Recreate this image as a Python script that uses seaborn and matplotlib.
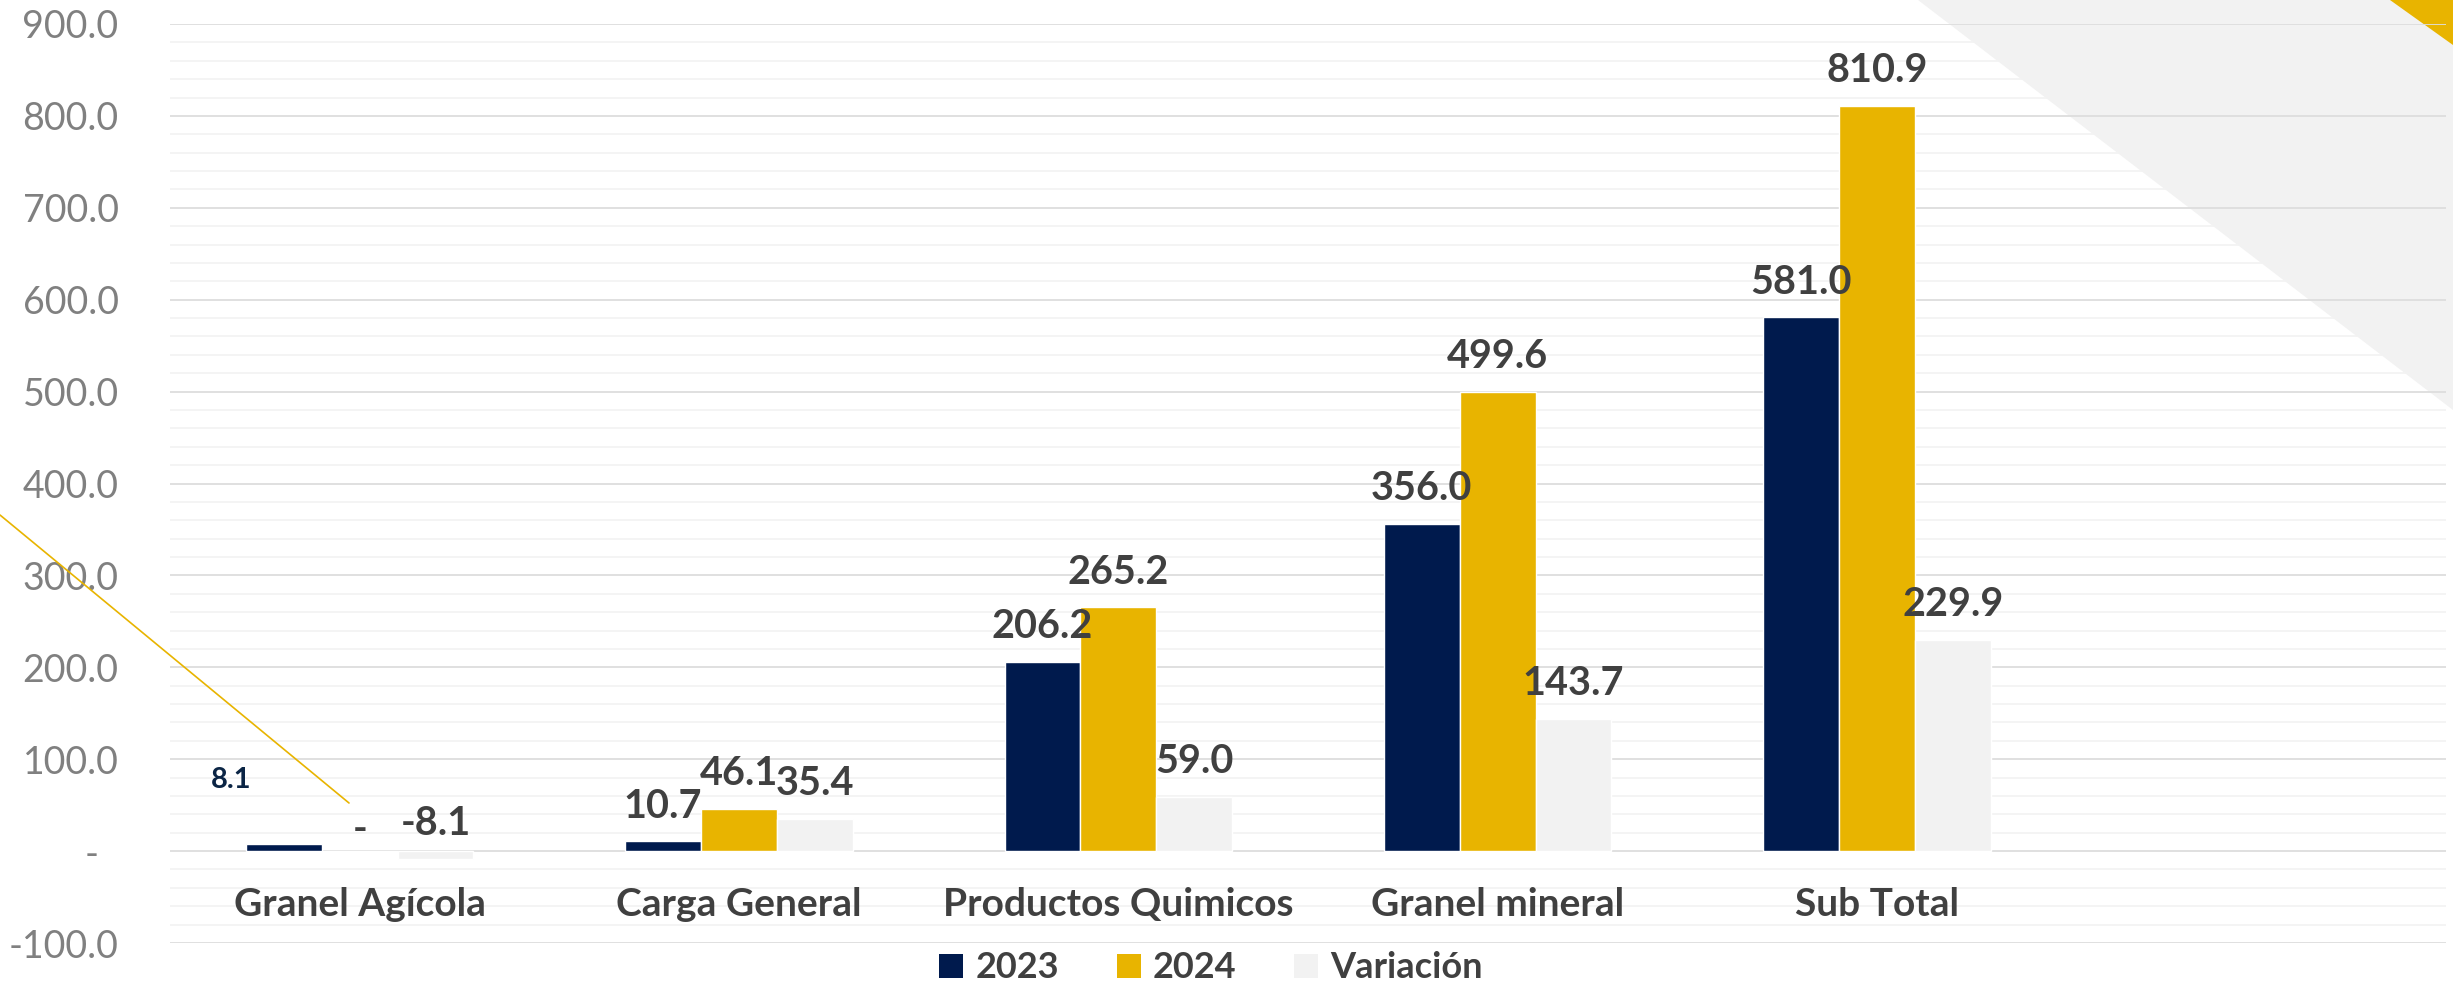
import numpy as np
import pandas as pd
import matplotlib
matplotlib.use("Agg")
import matplotlib.pyplot as plt
import seaborn as sns
from matplotlib.patches import Patch, Polygon
from matplotlib.lines import Line2D
from matplotlib.ticker import MultipleLocator, FuncFormatter

# =====================================
# Data
# =====================================
categories = ["Granel Agícola", "Carga General", "Productos Quimicos", "Granel mineral", "Sub Total"]
empty_slot = " "   # Excel chart keeps an empty sixth category
series = ["2023", "2024", "Variación"]

values_2023 = [8.1, 10.7, 206.2, 356.0, 581.0]
values_2024 = [0.0, 46.1, 265.2, 499.6, 810.9]
values_var = [-8.1, 35.4, 59.0, 143.7, 229.9]

colors = ["#001A4D", "#E8B400", "#F2F2F2"]

df = pd.DataFrame({
    "categoria": categories * 3,
    "serie": np.repeat(series, len(categories)),
    "valor": values_2023 + values_2024 + values_var,
})

# =====================================
# Figure
# =====================================
sns.set_theme(style="white")
plt.rcParams["font.family"] = ["Lato", "DejaVu Sans"]

W, H = 2453, 984
fig = plt.figure(figsize=(W / 100, H / 100), dpi=100)
ax = fig.add_axes([170 / W, 41 / H, (2446 - 170) / W, (943 - 24) / H])
ax.set_facecolor("none")

# background decorations (figure level)
fig.add_artist(Polygon([[1918 / W, 1], [1, 1], [1, 1 - 410 / H]], closed=True,
                       transform=fig.transFigure, facecolor="#F2F2F2",
                       edgecolor="none", zorder=-1))
fig.add_artist(Polygon([[2390 / W, 1], [1, 1], [1, 1 - 45 / H]], closed=True,
                       transform=fig.transFigure, facecolor="#E8B400",
                       edgecolor="none", zorder=-1))
fig.add_artist(Line2D([0, 349 / W], [1 - 515 / H, 1 - 803 / H],
                      transform=fig.transFigure, color="#E8B400",
                      linewidth=1.2, zorder=5))

sns.barplot(
    data=df, x="categoria", y="valor", hue="serie",
    order=categories + [empty_slot], hue_order=series,
    palette=colors, width=0.6, errorbar=None, saturation=1,
    legend=False, ax=ax,
)

# =====================================
# Axes styling
# =====================================
ax.set_ylim(-100, 900)
ax.yaxis.set_major_locator(MultipleLocator(100))
ax.yaxis.set_minor_locator(MultipleLocator(20))
ax.yaxis.set_major_formatter(FuncFormatter(lambda v, p: "-  " if abs(v) < 1e-9 else f"{v:.1f}"))
ax.grid(which="major", axis="y", color="#DDDDDD", linewidth=1.3)
ax.grid(which="minor", axis="y", color="#F3F3F3", linewidth=1.3)
ax.set_axisbelow(True)
ax.xaxis.set_zorder(0.7)   # category labels above the y gridlines

for side in ["top", "right", "left", "bottom"]:
    ax.spines[side].set_visible(False)
ax.spines["bottom"].set_position(("data", 0))

ax.tick_params(which="both", length=0)
ax.tick_params(axis="y", pad=37, labelsize=27, labelcolor="#808080")
ax.tick_params(axis="x", pad=26, labelsize=28, labelcolor="#404040")
for lbl in ax.get_xticklabels():
    lbl.set_fontweight("bold")
ax.set_xlabel("")
ax.set_ylabel("")

# =====================================
# Data labels
# =====================================
for cont, ser in zip(ax.containers, series):
    for i, bar in enumerate(cont):
        h = bar.get_height()
        if np.isnan(h):
            continue
        xc = bar.get_x() + bar.get_width() / 2
        if ser == "2023" and i == 0:
            # label moved by hand in the original
            ax.annotate(f"{h:.1f}", (xc, h), xytext=(-38, 40), textcoords="offset points",
                        ha="center", va="baseline", fontsize=21, fontweight="bold",
                        color="#0B2545")
            continue
        if h == 0:
            txt, dy = "-", 7
        else:
            txt, dy = f"{h:.1f}", 17
        ax.annotate(txt, (xc, h), xytext=(0, dy), textcoords="offset points",
                    ha="center", va="baseline", fontsize=28.5, fontweight="bold",
                    color="#404040")

# =====================================
# Legend
# =====================================
handles = [Patch(facecolor=c, edgecolor="none", label=s) for c, s in zip(colors, series)]
fig.legend(handles=handles, loc="center", bbox_to_anchor=(1211 / W, 16 / H), ncol=3,
           frameon=False, prop={"size": 26, "weight": "bold"}, labelcolor="#404040",
           handlelength=0.67, handleheight=0.67, handletextpad=0.33, columnspacing=1.6)

fig.savefig("out.png", dpi=100)
